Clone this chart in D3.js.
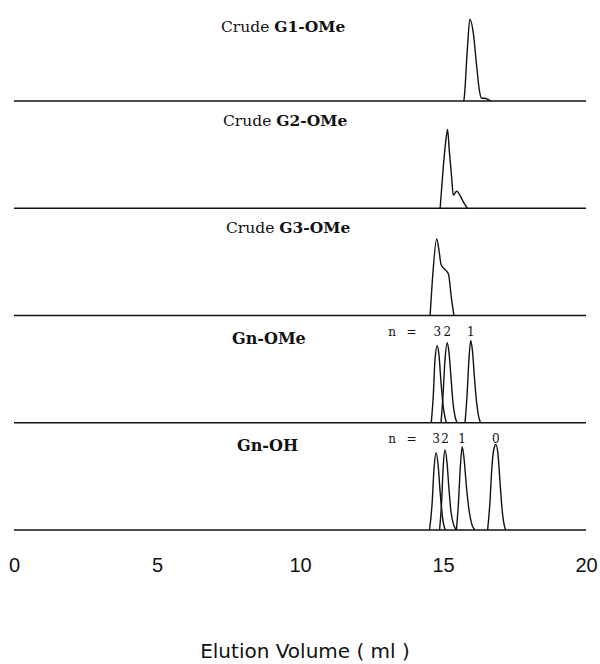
<!DOCTYPE html>
<html>
<head>
<meta charset="utf-8">
<script src="https://cdn.jsdelivr.net/npm/d3@7"></script>
<style>
	body { margin: 0; background: #fff; }
	svg { display: block; }
	.trace { fill: none; stroke: #111; stroke-width: 1.4; stroke-linejoin: round; }
	.baseline { stroke: #111; stroke-width: 1.4; }
	.panel-title { font-family: 'DejaVu Serif', serif; fill: #111; }
	.peak-label { font-family: 'DejaVu Serif', serif; font-size: 12px; fill: #111; }
	.axis-x text { font-family: 'Liberation Sans', sans-serif; font-size: 20px; fill: #111; }
	.axis-title { font-family: 'DejaVu Sans', sans-serif; font-size: 20px; fill: #111; }
</style>
</head>
<body>
<svg id="chart" width="600" height="664"></svg>
<script>
"use strict";

// elution volume (ml) vs. relative detector response (0..1)
var g1Trace = [[15.71, 0], [15.73, 0.01], [15.85, 0.57], [15.94, 0.91], [16.06, 0.755],
	[16.18, 0.38], [16.27, 0.12], [16.35, 0.03], [16.47, 0.03], [16.57, 0.018], [16.67, 0]];
var g2Trace = [[14.90, 0], [15.01, 0.46], [15.10, 0.755], [15.16, 0.875], [15.22, 0.64],
	[15.30, 0.35], [15.36, 0.145], [15.48, 0.19], [15.59, 0.145], [15.71, 0.07], [15.85, 0]];
var g3Trace = [[14.55, 0], [14.64, 0.44], [14.78, 0.85], [14.87, 0.70], [14.93, 0.57],
	[15.07, 0.51], [15.19, 0.46], [15.30, 0.18], [15.38, 0]];

// Gn-OMe, n = 3, 2, 1
var gnOMeN3 = [[14.59, 0], [14.66, 0.3], [14.72, 0.7], [14.80, 0.855], [14.86, 0.75],
	[14.93, 0.45], [15.00, 0.2], [15.07, 0.06], [15.12, 0]];
var gnOMeN2 = [[14.93, 0], [15.00, 0.3], [15.07, 0.7], [15.15, 0.89], [15.21, 0.78],
	[15.28, 0.5], [15.35, 0.22], [15.42, 0.07], [15.49, 0]];
var gnOMeN1 = [[15.77, 0], [15.84, 0.3], [15.91, 0.72], [15.97, 0.915], [16.03, 0.8],
	[16.10, 0.5], [16.17, 0.24], [16.24, 0.08], [16.31, 0]];

// Gn-OH, n = 3, 2, 1, 0
var gnOHN3 = [[14.53, 0], [14.62, 0.3], [14.69, 0.7], [14.76, 0.86], [14.83, 0.72],
	[14.90, 0.42], [14.97, 0.18], [15.03, 0.05], [15.09, 0]];
var gnOHN2 = [[14.88, 0], [14.95, 0.3], [15.01, 0.72], [15.07, 0.89], [15.14, 0.75],
	[15.21, 0.45], [15.28, 0.2], [15.37, 0.06], [15.47, 0]];
var gnOHN1 = [[15.47, 0], [15.54, 0.3], [15.61, 0.72], [15.67, 0.925], [15.74, 0.78],
	[15.82, 0.48], [15.91, 0.22], [16.01, 0.06], [16.12, 0]];
var gnOHN0 = [[16.56, 0], [16.64, 0.3], [16.71, 0.7], [16.78, 0.9], [16.85, 0.95],
	[16.92, 0.85], [16.99, 0.55], [17.06, 0.25], [17.13, 0.07], [17.19, 0]];

var gnOMeLabels = [['3', 14.80], ['2', 15.15], ['1', 15.97]];
var gnOHLabels = [['3', 14.76], ['2', 15.07], ['1', 15.67], ['0', 16.85]];

var xTicks = [0, 5, 10, 15, 20];
var xTitle = 'Elution Volume ( ml )';

// panel title: [plain part, bold part]
var panels = [
	{ title: ['Crude ', 'G1-OMe'], traces: [g1Trace], labels: [] },
	{ title: ['Crude ', 'G2-OMe'], traces: [g2Trace], labels: [] },
	{ title: ['Crude ', 'G3-OMe'], traces: [g3Trace], labels: [] },
	{ title: ['', 'Gn-OMe'], traces: [gnOMeN3, gnOMeN2, gnOMeN1], labels: gnOMeLabels },
	{ title: ['', 'Gn-OH'], traces: [gnOHN3, gnOHN2, gnOHN1, gnOHN0], labels: gnOHLabels }
];

var svg = d3.select('#chart');
var sizes = {
	left: 14,
	right: 586,
	firstBase: 101,
	rowStep: 107.25,
	peakHeight: 90
};
// where each title starts (x px) and how big it is
var titleX = [221, 223, 226, 232, 237];
var titleSize = [15.5, 15.5, 15.5, 16, 16];

var x = d3.scaleLinear()
	.domain([0, 20])
	.range([sizes.left, sizes.right]);

panels.forEach(function(p, i) {
	var base = sizes.firstBase + i * sizes.rowStep;
	var y = d3.scaleLinear()
		.domain([0, 1])
		.range([base, base - sizes.peakHeight]);
	var g = svg.append('g').attr('class', 'panel');

	g.append('line')
		.attr('class', 'baseline')
		.attr('x1', x(0))
		.attr('x2', x(20))
		.attr('y1', base)
		.attr('y2', base);

	var line = d3.line()
		.x(function(d) { return x(d[0]); })
		.y(function(d) { return y(d[1]); })
		.curve(d3.curveMonotoneX);

	g.selectAll('.trace')
		.data(p.traces)
		.enter()
		.append('path')
		.attr('class', 'trace')
		.attr('d', line);

	// title sits just under the previous baseline
	var prevBase = base - sizes.rowStep;
	var t = g.append('text')
		.attr('class', 'panel-title')
		.attr('x', titleX[i])
		.attr('y', i === 0 ? 32 : prevBase + (i < 3 ? 25 : 28))
		.style('font-size', titleSize[i] + 'px');
	if (p.title[0])
		t.append('tspan').text(p.title[0]);
	t.append('tspan').attr('font-weight', 'bold').text(p.title[1]);

	if (p.labels.length) {
		var ly = prevBase + 20;
		g.append('text')
			.attr('class', 'peak-label')
			.attr('x', x(13.22))
			.attr('y', ly)
			.attr('text-anchor', 'middle')
			.text('n');
		g.append('text')
			.attr('class', 'peak-label')
			.attr('x', x(13.9))
			.attr('y', ly)
			.attr('text-anchor', 'middle')
			.text('=');
		g.selectAll('.n-label')
			.data(p.labels)
			.enter()
			.append('text')
			.attr('class', 'peak-label n-label')
			.attr('x', function(d) { return x(d[1]); })
			.attr('y', ly)
			.attr('text-anchor', 'middle')
			.text(function(d) { return d[0]; });
	}
});

var xaxis = d3.axisBottom(x)
	.tickValues(xTicks)
	.tickSize(0)
	.tickPadding(18)
	.tickFormat(d3.format('d'));
var xaxisG = svg.append('g')
	.attr('class', 'axis-x')
	.attr('transform', 'translate(0,540)')
	.call(xaxis);
xaxisG.select('.domain').remove();
xaxisG.selectAll('text').attr('font-family', null).attr('font-size', null);

svg.append('text')
	.attr('class', 'axis-title')
	.attr('x', 305)
	.attr('y', 658)
	.attr('text-anchor', 'middle')
	.text(xTitle);
</script>
</body>
</html>
